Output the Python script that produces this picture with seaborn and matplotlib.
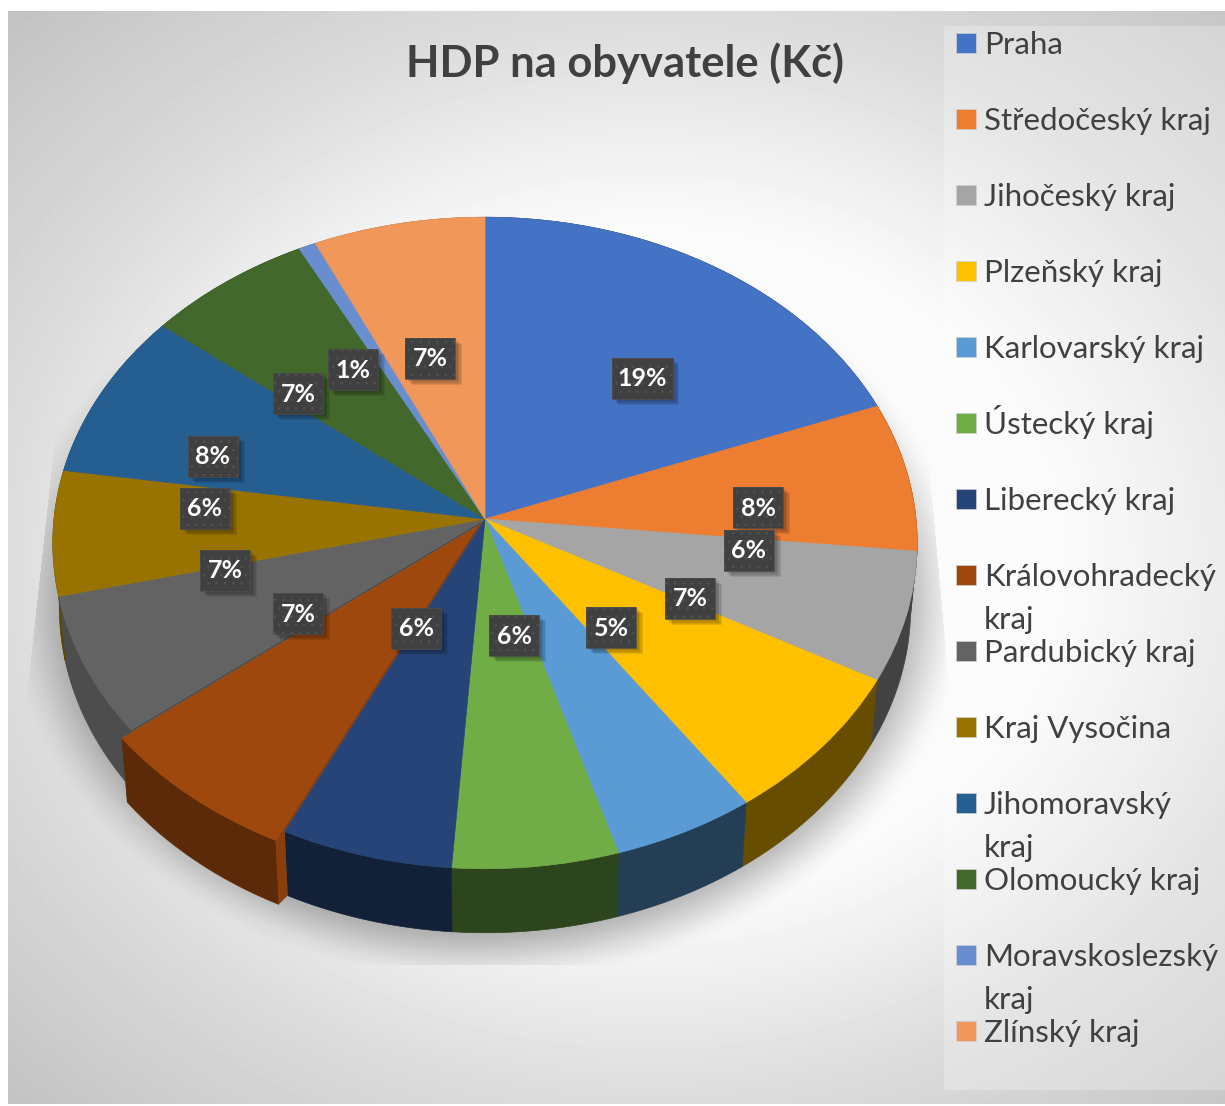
import numpy as np
import matplotlib
matplotlib.use('Agg')
import matplotlib.pyplot as plt
import matplotlib.patheffects as pe
import matplotlib.transforms as mtransforms
from matplotlib.patches import Rectangle
import seaborn as sns

# =========================
# Data
# =========================
regions = ['Praha', 'Středočeský kraj', 'Jihočeský kraj', 'Plzeňský kraj',
           'Karlovarský kraj', 'Ústecký kraj', 'Liberecký kraj',
           'Královohradecký\nkraj', 'Pardubický kraj', 'Kraj Vysočina',
           'Jihomoravský\nkraj', 'Olomoucký kraj', 'Moravskoslezský\nkraj',
           'Zlínský kraj']
shares = [19.2, 7.4, 6.4, 7.4, 5.0, 5.8, 6.0, 7.2, 6.9, 6.2, 8.3, 6.7, 0.7, 6.9]
share_labels = ['19%', '8%', '6%', '7%', '5%', '6%', '6%', '7%', '7%', '6%',
                '8%', '7%', '1%', '7%']

# =========================
# Layout and style
# =========================
colors = ['#4472C4', '#ED7D31', '#A5A5A5', '#FFC000', '#5B9BD5', '#70AD47',
          '#264478', '#9E480E', '#636363', '#997300', '#255E91', '#43682B',
          '#698ED0', '#F1975A']
explode = [0, 0, 0, 0, 0, 0, 0, 0.03, 0, 0, 0, 0, 0, 0]
side_shade = [0.4, 0.4, 0.4, 0.4, 0.4, 0.4, 0.47, 0.58, 0.78, 0.6, 0.6, 0.6, 0.6, 0.6]
label_xy = [(642, 378), (758, 507), (749, 550), (690, 598), (611, 627), (514, 635),
            (416, 628), (298, 613), (225, 570), (205, 508), (213, 456), (298, 393),
            (353, 369), (430, 358)]
WIDTH, HEIGHT = 1225, 1106
CX, CY, RX, RY, K = 485, 519, 431, 324, 0.0736
DEPTH, LOWER_X = 64, 0.985
TEXT = '#404040'
FONT = ['Lato', 'DejaVu Sans']


def tilt(u, v, lower=False):
    w = 1 + K * v
    if lower:
        return CX + LOWER_X * RX * u / w, CY + DEPTH - RY * v / w
    return CX + RX * u / w, CY - RY * v / w


class Tilt(mtransforms.Transform):
    input_dims = output_dims = 2
    is_separable = False
    has_inverse = False

    def transform_non_affine(self, values):
        x, y = tilt(values[:, 0], values[:, 1])
        return np.column_stack([x, y])


def rim(wedge, t, lower=False):
    a = np.radians(t)
    return tilt(wedge.center[0] + np.cos(a), wedge.center[1] + np.sin(a), lower)


sns.set_theme(style='white')
plt.rcParams['font.family'] = FONT
plt.rcParams['hatch.linewidth'] = 0.6
palette = sns.color_palette(colors)

fig = plt.figure(figsize=(WIDTH / 100, HEIGHT / 100), dpi=100, facecolor='white')
ax = fig.add_axes([0, 0, 1, 1])

# =========================
# Background and shadow
# =========================
yy, xx = np.mgrid[11:1104, 8:WIDTH]
dist = np.hypot((xx - 650) / 1.2, yy - 560)
back = np.interp(dist, [0, 340, 400, 540, 760, 950], [252, 250, 242, 220, 195, 180]) / 255
ax.imshow(back, cmap='gray', vmin=0, vmax=1, extent=(8, WIDTH, 1104, 11), zorder=0)

rho = np.hypot((xx - CX) / 440, (yy - 600) / 350)
fade = np.clip((1.1 - rho) / 0.2, 0, 1)
shadow = 0.32 * fade * fade * (3 - 2 * fade)
left_edge = 50 - (yy - 480) * 35 / 320
right_edge = 930 + (yy - 480) * 20 / 220
shadow[(yy > 964) | (xx < left_edge) | (xx > right_edge)] = 0
layer = np.zeros(shadow.shape + (4,))
layer[..., 3] = shadow
ax.imshow(layer, extent=(8, WIDTH, 1104, 11), zorder=0.1)

# =========================
# Pie, tilted with a perspective transform
# =========================
wedges, _ = ax.pie(shares, colors=palette, explode=explode, startangle=90,
                   counterclock=False, radius=1)
tilted = Tilt() + ax.transData
for i, w in enumerate(wedges):
    w.set_transform(tilted)
    w.set_edgecolor(palette[i])
    w.set_linewidth(0.5)
    w.set_zorder(2.5 if explode[i] else 2)

    # rim below the top face
    t = np.linspace(w.theta1, w.theta2, 60)
    x_top, y_top = rim(w, t)
    x_low, y_low = rim(w, t, lower=True)
    dark = np.array(palette[i]) * side_shade[i]
    ax.fill(np.r_[x_top, x_low[::-1]], np.r_[y_top, y_low[::-1]], color=dark,
            lw=0.5, zorder=1.5 if explode[i] else 1)

# walls visible in the gap around the pulled slice
pulled = wedges[explode.index(max(explode))]
for t, col, z in [(pulled.theta1, '#4F4F4F', 1.2), (pulled.theta2, '#8A3E0C', 1.7)]:
    a = np.radians(t)
    us, vs = pulled.center[0] + np.cos(a), pulled.center[1] + np.sin(a)
    uo, vo = np.cos(a), np.sin(a)
    pts = [tilt(pulled.center[0], pulled.center[1]), tilt(us, vs), tilt(us, vs, True),
           tilt(uo, vo, True), tilt(uo, vo), tilt(0, 0)]
    ax.fill(*zip(*pts), color=col, lw=0, zorder=z)

# =========================
# Data labels
# =========================
soft = [pe.SimplePatchShadow(offset=(d, -d), alpha=0.09, shadow_rgbFace='black')
        for d in (5, 4, 3, 2)]
for (x, y), txt in zip(label_xy, share_labels):
    bw = 50 + 11 * (len(txt) - 2)
    under = Rectangle((x - bw / 2, y - 20.5), bw, 41, facecolor=TEXT, edgecolor='none', zorder=3)
    under.set_path_effects(soft + [pe.Normal()])
    ax.add_patch(under)
    ax.add_patch(Rectangle((x - bw / 2, y - 20.5), bw, 41, facecolor=TEXT, edgecolor='#525252',
                           hatch='..', lw=0.4, zorder=3.1))
    ax.text(x, y + 1, txt, color='white', fontsize=18, fontweight='bold',
            ha='center', va='center', zorder=4)

# =========================
# Title and legend
# =========================
ax.text(625, 63, 'HDP na obyvatele (Kč)', color=TEXT, fontsize=31.3, fontweight='bold',
        ha='center', va='center', zorder=4)

ax.add_patch(Rectangle((944, 26), WIDTH - 944, 1064, facecolor='white', edgecolor='none',
                       alpha=0.25, zorder=2))
for i, name in enumerate(regions):
    y = 43 + 76 * i
    ax.add_patch(Rectangle((955.5, y - 10), 20, 20, facecolor=palette[i],
                           edgecolor='#D0D0D0', lw=0.5, zorder=3))
    for k, line in enumerate(name.split('\n')):
        ax.text(984, y + 11 + 43 * k, line, color=TEXT, fontsize=22.5, ha='left',
                va='baseline', zorder=4)

ax.set_xlim(0, WIDTH)
ax.set_ylim(HEIGHT, 0)
ax.set_aspect('auto')
ax.set_axis_off()

fig.savefig('out.png', dpi=100, facecolor='white')
